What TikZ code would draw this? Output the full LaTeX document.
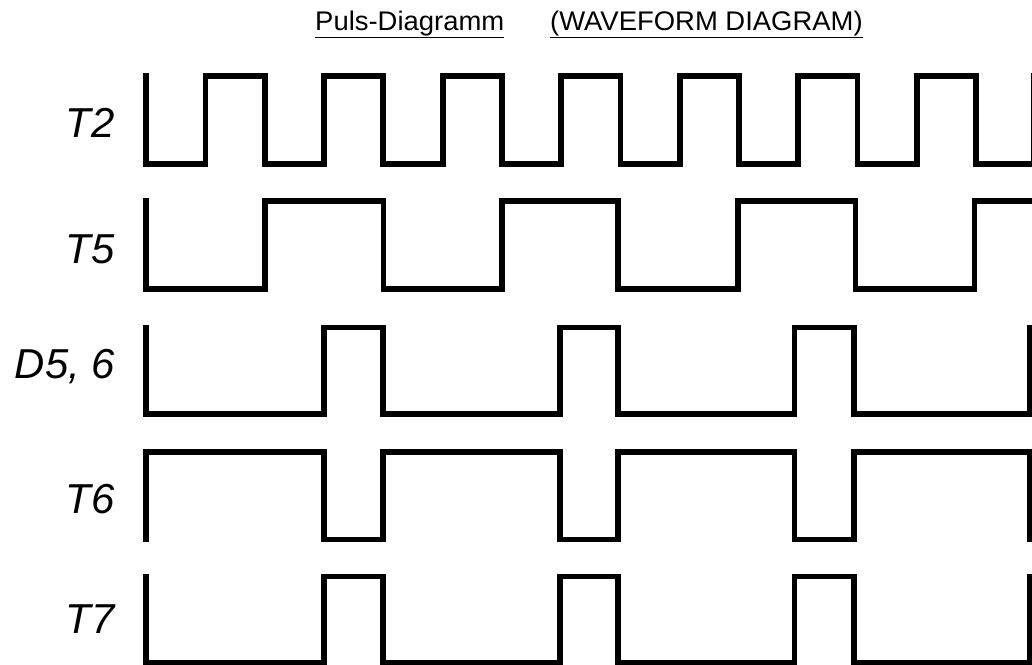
\documentclass[tikz,border=0pt]{standalone}
\usepackage{fontspec}
\setmainfont{Liberation Sans}
\newfontfamily\titlefont[FakeStretch=1.02]{Liberation Sans}

\tikzset{
	wave/.style={line width=5.8bp, line cap=rect, line join=miter},
	signame/.style={anchor=base east, inner sep=0pt, font=\fontsize{42}{42}\selectfont\itshape},
	heading/.style={anchor=base west, inner sep=0pt, font=\titlefont\fontsize{27}{28}\selectfont},
}

\begin{document}
\begin{tikzpicture}[x=1bp,y=-1bp]
	\useasboundingbox (0,0) rectangle (1032,665);
	\clip (0,0) rectangle (1032,665);

	% heading
	\node[heading] (puls) at (315,30.5) {Puls-Diagramm};
	\node[heading] (waveform) at (550,30.5) {(WAVEFORM DIAGRAM)};
	\draw[line width=1.7bp] ([yshift=-1.2bp]puls.south west) -- ([yshift=-1.2bp]puls.south east);
	\draw[line width=1.7bp] ([yshift=-1.2bp]waveform.south west) -- ([yshift=-1.2bp]waveform.south east);

	% signal names
	\foreach \name/\txt/\base in {t2/T2/138, t5/T5/263, d56/{D5, 6}/378, t6/T6/513, t7/T7/633}
		\node[signame] (\name) at (115,\base) {\txt};

	% T2
	\draw[wave] (146.2,76) -- (146.2,164) -| (205.5,76) -| (264.7,164) -| (324,76) -| (383.3,164)
		-| (442.6,76) -| (501.8,164) -| (561.1,76) -| (620.4,164) -| (679.6,76) -| (738.9,164)
		-| (798.2,76) -| (857.4,164) -| (916.7,76) -| (976,164) -| (1033.5,76);
	% T5
	\draw[wave] (146,201) -- (146,289) -| (265,201) -| (383.5,289) -| (501.7,201) -| (618,289)
		-| (737.6,201) -| (855.5,289) -| (974.5,201) -- (1040,201);
	% D5, 6
	\draw[wave] (146,327.5) -- (146,414) -| (324,327.5) -| (383,414) -| (559.7,327.5) -| (617.8,414)
		-| (794.5,327.5) -| (854,414) -| (1029.5,327.5);
	% T6
	\draw[wave] (146,539.5) -- (146,452) -| (324,539.5) -| (383,452) -| (559.7,539.5) -| (617.8,452)
		-| (794.5,539.5) -| (854,452) -| (1029.5,539.5);
	% T7
	\draw[wave] (146,576.5) -- (146,662.5) -| (324,576.5) -| (383,662.5) -| (559.7,576.5) -| (617.8,662.5)
		-| (794.5,576.5) -| (854,662.5) -| (1029.5,576.5);
\end{tikzpicture}
\end{document}
